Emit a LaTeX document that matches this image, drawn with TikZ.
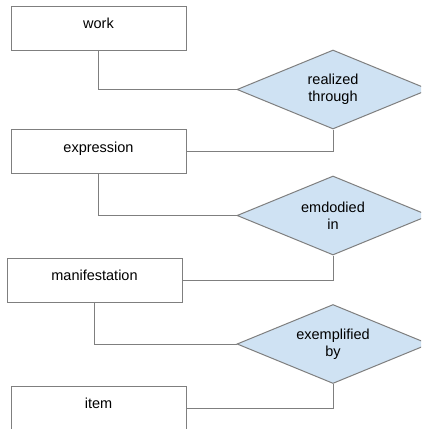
\documentclass[tikz,border=0pt]{standalone}
\usepackage{fontspec}
\setmainfont{Liberation Sans}
\usetikzlibrary{shapes.geometric}
\definecolor{linegray}{HTML}{7F7F7F}
\definecolor{dfill}{HTML}{CFE2F3}
\tikzset{
  entbox/.style={draw=linegray, line width=1pt, rectangle, minimum width=175pt, minimum height=44pt, inner sep=0pt, text height=10pt, text depth=9pt, font=\fontsize{14.5pt}{17pt}\selectfont},
  rel/.style={draw=linegray, line width=1pt, fill=dfill, diamond, aspect=2.4, minimum width=192pt, minimum height=79pt, inner sep=0pt, align=center, font=\fontsize{14.5pt}{17pt}\selectfont},
  conn/.style={draw=linegray, line width=1pt}
}
\begin{document}
\begin{tikzpicture}[x=1pt,y=-1pt]
\useasboundingbox (0,0) rectangle (421,429);
\clip (0,0) rectangle (421,429);
\fill[white] (0,0) rectangle (421,429);
\node[entbox] (work) at (98.5,28) {work};
\node[entbox] (expr) at (98.5,151.5) {expression};
\node[entbox] (mani) at (94.5,280) {manifestation};
\node[entbox] (item) at (98.5,408) {item};
\node[rel] (d1) at (333,89.5) {realized\\through};
\node[rel] (d2) at (333,215.5) {emdodied\\in};
\node[rel] (d3) at (333,344) {exemplified\\by};
\draw[conn] (work.south) |- (d1.west);
\draw[conn] (d1.south) |- (expr.east);
\draw[conn] (expr.south) |- (d2.west);
\draw[conn] (d2.south) |- (mani.east);
\draw[conn] (mani.south) |- (d3.west);
\draw[conn] (d3.south) |- (item.east);
\end{tikzpicture}
\end{document}
